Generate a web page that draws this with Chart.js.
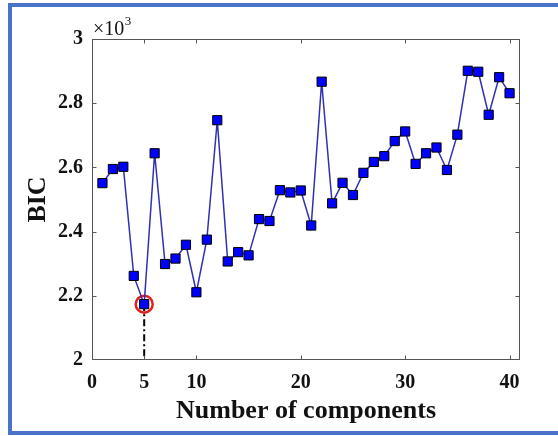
<!DOCTYPE html>
<html><head><meta charset="utf-8">
<script src="https://cdn.jsdelivr.net/npm/chart.js@4/dist/chart.umd.min.js"></script>
<style>html,body{margin:0;padding:0;background:#fff;overflow:hidden;} canvas{display:block;}</style>
</head><body>
<canvas id="c" width="558" height="436"></canvas>
<script>
// ---- data ----
const components = [1,2,3,4,5,6,7,8,9,10,11,12,13,14,15,16,17,18,19,20,21,22,23,24,25,26,27,28,29,30,31,32,33,34,35,36,37,38,39,40];
const bicValues = [2551,2595,2602,2262,2174,2644,2299,2316,2359,2211,2375,2747,2307,2336,2326,2439,2433,2529,2522,2528,2419,2867,2488,2552,2514,2583,2617,2635,2682,2712,2611,2644,2662,2592,2702,2901,2898,2764,2881,2831];
const xTickValues = [0,5,10,20,30,40];
const yTickValues = [2000,2200,2400,2600,2800,3000];
const selectedComponents = 5;
const xTitle = 'Number of components';
const yTitle = 'BIC';

const SERIF = '"Liberation Serif", "Times New Roman", serif';
const selIdx = components.indexOf(selectedComponents);
const selPoint = {x: selectedComponents, y: bicValues[selIdx]};

const decorPlugin = {
  id: 'decor',
  beforeDraw(chart) {
    const ctx = chart.ctx;
    ctx.save();
    ctx.fillStyle = '#fff';
    ctx.fillRect(0, 0, chart.width, chart.height);
    ctx.fillStyle = '#4a74c9';
    ctx.fillRect(8, 3, chart.width - 8, 4);      // top
    ctx.fillRect(8, 3, 4, 432);                   // left
    ctx.fillRect(8, 431, chart.width - 8, 4);    // bottom
    ctx.restore();
  },
  afterDraw(chart) {
    const ctx = chart.ctx;
    const a = chart.chartArea;
    const xs = chart.scales.x, ys = chart.scales.y;
    const L = Math.round(a.left) + 0.5, R = Math.round(a.right) - 0.5;
    const T = Math.round(a.top) + 0.5, B = Math.round(a.bottom) - 0.5;
    ctx.save();
    ctx.strokeStyle = '#555';
    ctx.lineWidth = 1;
    ctx.strokeRect(L, T, R - L, B - T);
    ctx.beginPath();
    xs.ticks.forEach(t => {
      const px = Math.round(xs.getPixelForValue(t.value)) + 0.5;
      if (px <= L + 1 || px >= R - 1) return;
      ctx.moveTo(px, B); ctx.lineTo(px, B - 4);
      ctx.moveTo(px, T); ctx.lineTo(px, T + 4);
    });
    ys.ticks.forEach(t => {
      const py = Math.round(ys.getPixelForValue(t.value)) + 0.5;
      if (py <= T + 1 || py >= B - 1) return;
      ctx.moveTo(L, py); ctx.lineTo(L + 4, py);
      ctx.moveTo(R, py); ctx.lineTo(R - 4, py);
    });
    ctx.stroke();
    // exponent label
    ctx.fillStyle = '#111';
    ctx.textBaseline = 'alphabetic';
    ctx.textAlign = 'left';
    ctx.font = '20px ' + SERIF;
    ctx.fillText('\u00d710', 93, 35);
    const w = ctx.measureText('\u00d710').width;
    ctx.font = '13px ' + SERIF;
    ctx.fillText('3', 93 + w + 0.5, 25);
    ctx.restore();
  }
};

new Chart(document.getElementById('c'), {
  type: 'line',
  data: {
    datasets: [
      {
        data: components.map((c, i) => ({x: c, y: bicValues[i]})),
        borderColor: '#3030b4',
        borderWidth: 1.5,
        pointStyle: 'rect',
        pointRadius: 6.5,
        pointBackgroundColor: '#0000ff',
        pointBorderColor: '#000',
        pointBorderWidth: 1,
        tension: 0
      },
      {
        data: [selPoint],
        showLine: false,
        pointStyle: 'circle',
        pointRadius: 8.5,
        pointBorderWidth: 2.5,
        pointBorderColor: '#e0201b',
        pointBackgroundColor: 'rgba(0,0,0,0)'
      },
      {
        data: [selPoint, {x: selectedComponents, y: yTickValues[0]}],
        borderColor: '#000',
        borderWidth: 2,
        borderDash: [7, 3, 2, 3],
        pointRadius: 0
      }
    ]
  },
  options: {
    responsive: false,
    animation: false,
    devicePixelRatio: 1,
    layout: {padding: {left: 0, top: 39, right: 38, bottom: 0}},
    plugins: {legend: {display: false}, tooltip: {enabled: false}},
    scales: {
      x: {
        type: 'linear',
        min: 0, max: 41,
        grid: {display: false, drawTicks: false},
        border: {display: false},
        afterBuildTicks: s => { s.ticks = xTickValues.map(v => ({value: v})); },
        afterFit: s => { s.height = 76; },
        ticks: {
          padding: 11,
          color: '#111',
          font: {family: SERIF, size: 20, weight: 'bold'},
          maxRotation: 0,
          callback: v => String(v)
        },
        title: {
          display: true, text: xTitle, color: '#111',
          font: {family: SERIF, size: 26, weight: 'bold'},
          padding: {top: 0, bottom: 9}
        }
      },
      y: {
        type: 'linear',
        min: 2000, max: 3000,
        grid: {display: false, drawTicks: false},
        border: {display: false},
        afterBuildTicks: s => { s.ticks = yTickValues.map(v => ({value: v})); },
        afterFit: s => { s.width = 92; },
        ticks: {
          padding: 9,
          color: '#111',
          font: {family: SERIF, size: 20, weight: 'bold'},
          callback: v => String(+(v / 1000).toFixed(1))
        },
        title: {
          display: true, text: yTitle, color: '#111',
          font: {family: SERIF, size: 26, weight: 'bold'},
          padding: {top: 23, bottom: 0}
        }
      }
    }
  },
  plugins: [decorPlugin]
});
</script>
</body></html>
